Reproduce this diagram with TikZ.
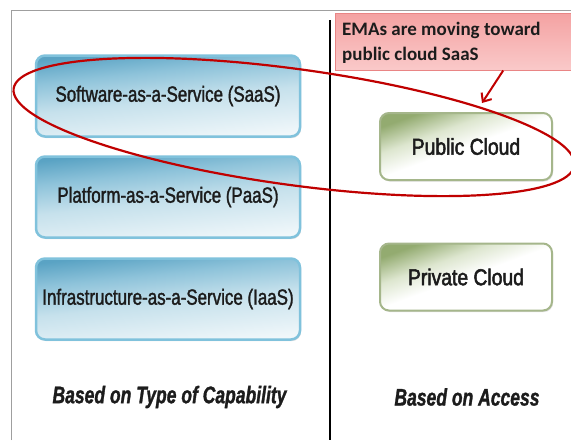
\documentclass[tikz,border=0pt]{standalone}
\usepackage{fontspec}
\setmainfont{Liberation Sans}
\newfontfamily\narrowfont[FakeStretch=0.77,FakeBold=1.5]{Liberation Sans}
\newfontfamily\cloudfont[FakeStretch=0.84,FakeBold=2.2]{Liberation Sans}
\newfontfamily\capfont[FakeStretch=0.73,FakeBold=1.2]{Liberation Sans}
\newfontfamily\calfont{Carlito}
\usetikzlibrary{arrows.meta,calc,shadows}
\definecolor{bluedark}{HTML}{5AA3C4}
\definecolor{bluemid}{HTML}{8EC3DA}
\definecolor{bluepale}{HTML}{C6E1EC}
\definecolor{bluelight}{HTML}{F0F7FA}
\definecolor{blueborder}{HTML}{80C2DC}
\definecolor{greendark}{HTML}{93AB70}
\definecolor{greenmid}{HTML}{DDE6CF}
\definecolor{greenborder}{HTML}{A5B68B}
\definecolor{calloutfill}{HTML}{F4A2A2}
\definecolor{calloutlow}{HTML}{FAC9C9}
\definecolor{calloutborder}{HTML}{E98585}
\definecolor{ringred}{HTML}{C00000}
\definecolor{textdark}{HTML}{1C1C1C}
\pgfdeclareverticalshading{bluefade}{100bp}{color(0bp)=(bluelight); color(25bp)=(bluelight); color(48bp)=(bluepale); color(63bp)=(bluemid); color(75bp)=(bluedark); color(100bp)=(bluedark)}
\pgfdeclareverticalshading{greenfade}{100bp}{color(0bp)=(white); color(25bp)=(white); color(50bp)=(white); color(62bp)=(greenmid); color(75bp)=(greendark); color(100bp)=(greendark)}
\begin{document}
\begin{tikzpicture}[x=1pt,y=-1pt,
  bluebox/.style={rounded corners=9pt, draw=blueborder, line width=2.5pt,
    shading=bluefade, shading angle=6,
    minimum width=264pt, minimum height=81pt, inner sep=0pt,
    font=\narrowfont\fontsize{22}{24}\selectfont, text=textdark,
    drop shadow={shadow xshift=1pt, shadow yshift=-1.5pt, opacity=0.25}},
  greenbox/.style={rounded corners=9pt, draw=greenborder, line width=2pt,
    shading=greenfade, shading angle=20,
    minimum width=172pt, minimum height=67pt, inner sep=0pt,
    font=\cloudfont\fontsize{23}{25}\selectfont, text=textdark,
    drop shadow={shadow xshift=1pt, shadow yshift=-1.5pt, opacity=0.25}},
  caption/.style={font=\capfont\bfseries\itshape\fontsize{24}{26}\selectfont, text=textdark},
  callout/.style={draw=calloutborder, line width=1pt,
    top color=calloutfill, bottom color=calloutlow,
    minimum width=240pt, minimum height=57pt, inner sep=0pt},
  ring/.style={draw=ringred, line width=2.2pt},
  pointer/.style={draw=ringred, line width=2pt, -{Straight Barb[length=7pt,width=12pt]}}
]
\useasboundingbox (0,0) rectangle (571,440);
\fill[white] (0,0) rectangle (571,440);
% frame and divider
\draw[gray!75, line width=1pt] (11,440) -- (11,10) -- (571,10);
\draw[black, line width=2pt] (330,20) -- (330,440);
% left column
\node[bluebox] (saas) at (168,96) {Software-as-a-Service (SaaS)};
\node[bluebox] (paas) at (168,197) {Platform-as-a-Service (PaaS)};
\node[bluebox] (iaas) at (168,299) {Infrastructure-as-a-Service (IaaS)};
\node[caption] (capability) at (169.5,397) {Based on Type of Capability};
% right column
\node[greenbox] (public) at (466,146.5) {Public Cloud};
\node[greenbox] (private) at (466,277) {Private Cloud};
\node[caption] (access) at (467,397) {Based on Access};
% callout
\node[callout] (note) at (455,41.5) {};
\node[anchor=north west, align=left, inner sep=0pt, text=textdark,
  font=\calfont\bfseries\fontsize{19}{25}\selectfont] (notetext) at (342,22)
  {EMAs are moving toward\\public cloud SaaS};
\coordinate (tip) at (482,103);
\draw[pointer] ($(note.south west)!0.7!(note.south east)$) -- (tip);
% ring
\draw[ring, rotate around={-7.8:(294,127)}] (294,127) ellipse [x radius=283pt, y radius=58pt];
\end{tikzpicture}
\end{document}
